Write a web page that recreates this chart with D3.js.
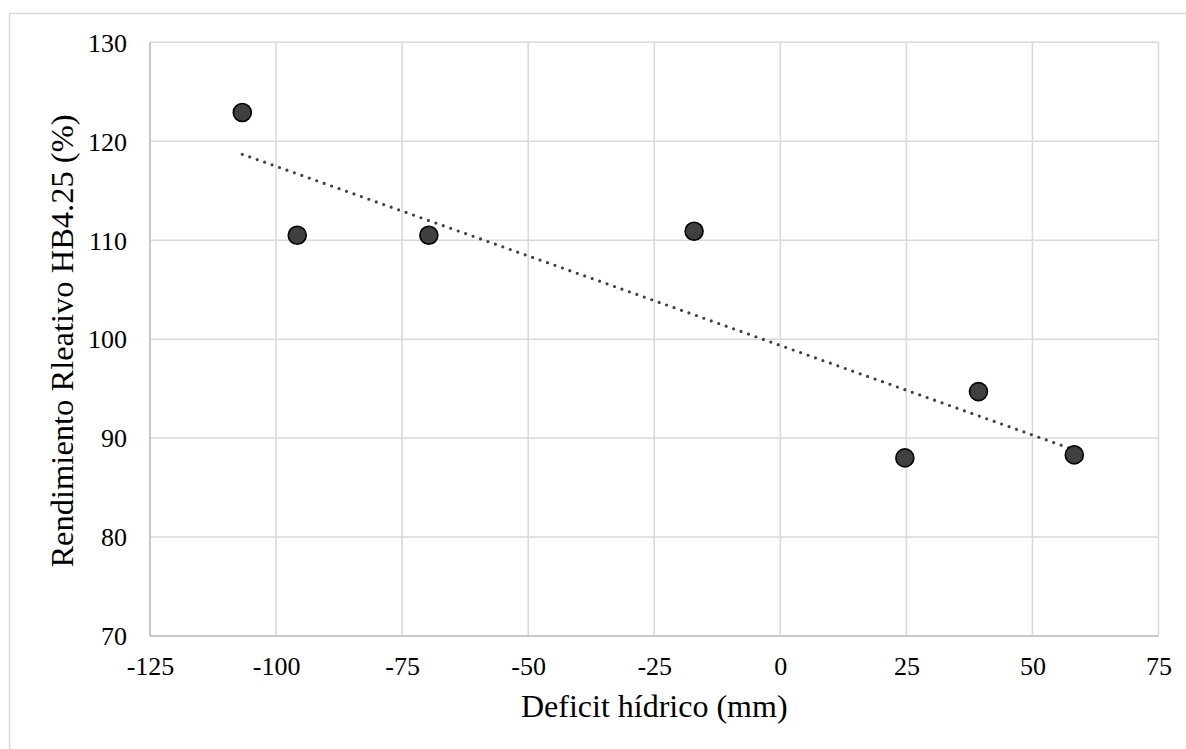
<!DOCTYPE html>
<html>
<head>
<meta charset="utf-8">
<script src="https://cdn.jsdelivr.net/npm/d3@7"></script>
<style>
  html, body { margin: 0; padding: 0; background: #fff; }
  svg { display: block; }
</style>
</head>
<body>
<svg id="chart" width="1186" height="749"></svg>
<script>
// Data
const deficit = [-106.7, -95.8, -69.7, -17.1, 24.7, 39.3, 58.3];
const rendimiento = [122.9, 110.5, 110.5, 110.9, 88.0, 94.7, 88.3];
const xTicks = [-125, -100, -75, -50, -25, 0, 25, 50, 75];
const yTicks = [70, 80, 90, 100, 110, 120, 130];
const xTitle = "Deficit hídrico (mm)";
const yTitle = "Rendimiento Rleativo HB4.25 (%)";

const FONT = "'Liberation Serif', 'Times New Roman', serif";
const svg = d3.select("#chart");
const W = 1186, H = 749;
const m = { left: 150, top: 42.3, right: 1158.5, bottom: 636 };

// outer chart border
svg.append("rect").attr("x", 9.5).attr("y", 13.5).attr("width", W + 20).attr("height", H + 20)
  .attr("fill", "#fff").attr("stroke", "#d9d9d9").attr("stroke-width", 1.5);

const x = d3.scaleLinear().domain([-125, 75]).range([m.left, m.right]);
const y = d3.scaleLinear().domain([70, 130]).range([m.bottom, m.top]);

// gridlines
svg.append("g").selectAll("line").data(xTicks).join("line")
  .attr("x1", d => x(d)).attr("x2", d => x(d)).attr("y1", m.top).attr("y2", m.bottom)
  .attr("stroke", "#d9d9d9").attr("stroke-width", 1.5);
svg.append("g").selectAll("line").data(yTicks).join("line")
  .attr("x1", m.left).attr("x2", m.right).attr("y1", d => y(d)).attr("y2", d => y(d))
  .attr("stroke", "#d9d9d9").attr("stroke-width", 1.5);

// axis lines (slightly darker)
svg.append("line").attr("x1", m.left).attr("x2", m.right).attr("y1", m.bottom).attr("y2", m.bottom)
  .attr("stroke", "#bfbfbf").attr("stroke-width", 1.5);
svg.append("line").attr("x1", m.left).attr("x2", m.left).attr("y1", m.top).attr("y2", m.bottom)
  .attr("stroke", "#bfbfbf").attr("stroke-width", 1.5);

const fmt = d => String(d); // plain hyphen-minus like the reference

// axes via d3 (labels only)
const xAxis = d3.axisBottom(x).tickValues(xTicks).tickSize(0).tickPadding(0).tickFormat(fmt);
const gx = svg.append("g").attr("transform", `translate(0,${m.bottom})`).call(xAxis)
  .attr("font-family", FONT).attr("font-size", 26);
gx.select(".domain").remove();
gx.selectAll("text").attr("fill", "#000").attr("dy", null).attr("y", 39).attr("text-anchor", "middle");

const yAxis = d3.axisLeft(y).tickValues(yTicks).tickSize(0).tickPadding(0).tickFormat(fmt);
const gy = svg.append("g").attr("transform", `translate(${m.left},0)`).call(yAxis)
  .attr("font-family", FONT).attr("font-size", 26);
gy.select(".domain").remove();
gy.selectAll("text").attr("fill", "#000").attr("x", -23).attr("dy", "0.34em").attr("text-anchor", "end");

// axis titles
svg.append("text").attr("x", (m.left + m.right) / 2).attr("y", 717)
  .attr("text-anchor", "middle").attr("font-family", FONT).attr("font-size", 32).attr("fill", "#000").text(xTitle);
svg.append("text").attr("transform", `translate(73,341) rotate(-90)`)
  .attr("text-anchor", "middle").attr("font-family", FONT).attr("font-size", 32.5).attr("fill", "#000").text(yTitle);

// linear trendline (least squares from data)
const n = deficit.length;
const mx = d3.mean(deficit), my = d3.mean(rendimiento);
let sxy = 0, sxx = 0;
for (let i = 0; i < n; i++) { sxy += (deficit[i] - mx) * (rendimiento[i] - my); sxx += (deficit[i] - mx) ** 2; }
const slope = sxy / sxx, intercept = my - slope * mx;
const x0 = d3.min(deficit), x1 = d3.max(deficit);
svg.append("line")
  .attr("x1", x(x0)).attr("y1", y(intercept + slope * x0))
  .attr("x2", x(x1)).attr("y2", y(intercept + slope * x1))
  .attr("stroke", "#404040").attr("stroke-width", 3.2).attr("stroke-linecap", "round")
  .attr("stroke-dasharray", "0 7.9");

// points
svg.append("g").selectAll("circle").data(deficit.map((d, i) => [d, rendimiento[i]])).join("circle")
  .attr("cx", d => x(d[0])).attr("cy", d => y(d[1])).attr("r", 9)
  .attr("fill", "#404040").attr("stroke", "#000").attr("stroke-width", 1.6);
</script>
</body>
</html>
